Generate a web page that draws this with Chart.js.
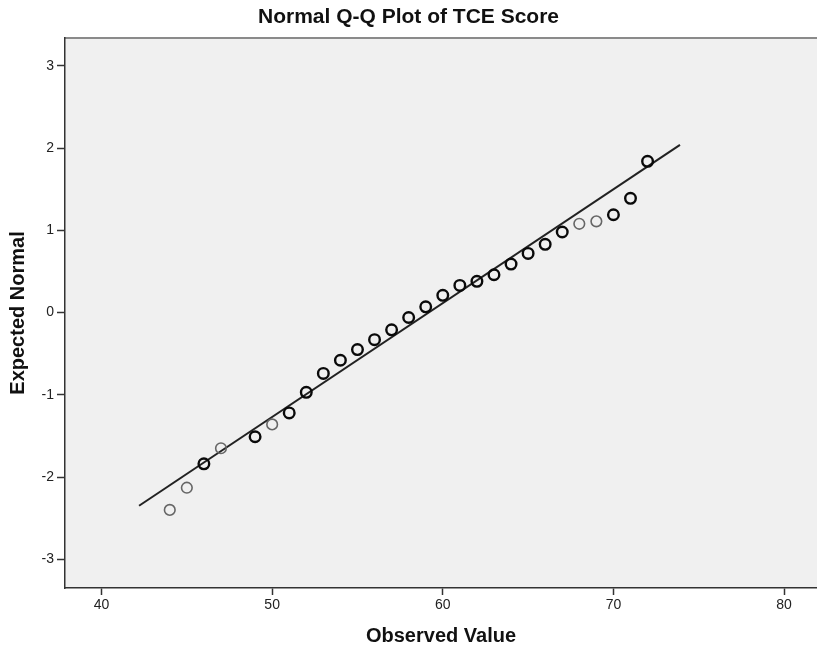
<!DOCTYPE html>
<html>
<head>
<meta charset="utf-8">
<script src="https://cdn.jsdelivr.net/npm/chart.js@4/dist/chart.umd.min.js"></script>
<style>
  body { margin: 0; background: #fff; }
  canvas { display: block; }
</style>
</head>
<body>
<canvas id="qq" width="817" height="645"></canvas>
<script>
// Normal Q-Q Plot of TCE Score

// Datos
const observed = [44, 45, 46, 47, 49, 50, 51, 52, 53, 54, 55, 56, 57, 58,
  59, 60, 61, 62, 63, 64, 65, 66, 67, 68, 69, 70, 71, 72];
const expectedNormal = [-2.40, -2.13, -1.84, -1.65, -1.51, -1.36, -1.22, -0.97,
  -0.74, -0.58, -0.45, -0.33, -0.21, -0.06, 0.07, 0.21, 0.33, 0.38, 0.46,
  0.59, 0.72, 0.83, 0.98, 1.08, 1.11, 1.19, 1.39, 1.84];
// casos por valor (puntos solapados se ven mas oscuros)
const caseCounts = [1, 1, 2, 1, 2, 1, 2, 2, 2, 2, 2, 2, 2, 2,
  2, 2, 2, 2, 2, 2, 2, 2, 2, 1, 1, 2, 2, 2];

// Recta de referencia
const lineX = [42.2, 73.9];
const lineY = [-2.35, 2.04];

// Marcas de los ejes
const xTicks = [40, 50, 60, 70, 80];
const yTicks = [-3, -2, -1, 0, 1, 2, 3];

const pointData = observed.map((x, i) => ({ x: x, y: expectedNormal[i] }));
const lineData = lineX.map((x, i) => ({ x: x, y: lineY[i] }));

// Fondo gris del area y linea superior
const plotBackground = {
  id: 'plotBackground',
  beforeDraw(chart) {
    const { ctx, chartArea: a } = chart;
    ctx.save();
    ctx.fillStyle = '#f0f0f0';
    ctx.fillRect(a.left, a.top, a.right - a.left, a.bottom - a.top);
    ctx.strokeStyle = '#8a8a8a';
    ctx.lineWidth = 2;
    ctx.beginPath();
    ctx.moveTo(a.left, a.top);
    ctx.lineTo(a.right, a.top);
    ctx.stroke();
    ctx.restore();
  }
};

const ctx = document.getElementById('qq').getContext('2d');
const chart = new Chart(ctx, {
  type: 'scatter',
  data: {
    datasets: [
      {
        type: 'line',
        data: lineData,
        borderColor: '#222',
        borderWidth: 2,
        pointRadius: 0,
        fill: false,
        order: 2
      },
      {
        data: pointData,
        pointRadius: 5.3,
        pointBackgroundColor: 'rgba(0,0,0,0)',
        pointBorderColor: caseCounts.map(c => c > 1 ? '#0a0a0a' : '#666'),
        pointBorderWidth: caseCounts.map(c => c > 1 ? 2.4 : 1.6),
        order: 1
      }
    ]
  },
  options: {
    responsive: false,
    animation: false,
    layout: { padding: 0, autoPadding: false },
    plugins: {
      legend: { display: false },
      tooltip: { enabled: false },
      title: {
        display: true,
        text: 'Normal Q-Q Plot of TCE Score',
        color: '#111',
        font: { family: '"Liberation Sans", Arial, sans-serif', size: 21, weight: 'bold', lineHeight: 1.2 },
        padding: { top: 5, bottom: 7.8 }
      }
    },
    scales: {
      x: {
        type: 'linear',
        min: 37.86,
        max: 81.93,
        afterBuildTicks: s => { s.ticks = xTicks.map(v => ({ value: v })); },
        afterFit: s => { s.height = 57; },
        ticks: {
          color: '#222',
          padding: 2,
          font: { family: '"Liberation Sans", Arial, sans-serif', size: 14 }
        },
        grid: { drawOnChartArea: false, drawTicks: true, tickLength: 7, tickColor: '#333', tickWidth: 1.5 },
        border: { color: '#333', width: 1.5 },
        title: {
          display: true,
          text: 'Observed Value',
          color: '#111',
          font: { family: '"Liberation Sans", Arial, sans-serif', size: 20, weight: 'bold', lineHeight: 1 },
          padding: { top: 0, bottom: -1 }
        }
      },
      y: {
        type: 'linear',
        min: -3.35,
        max: 3.34,
        afterBuildTicks: s => { s.ticks = yTicks.map(v => ({ value: v })); },
        afterFit: s => { s.width = 65; },
        ticks: {
          color: '#222',
          padding: 3,
          font: { family: '"Liberation Sans", Arial, sans-serif', size: 14 }
        },
        grid: { drawOnChartArea: false, drawTicks: true, tickLength: 8, tickColor: '#333', tickWidth: 1.5 },
        border: { color: '#333', width: 1.5 },
        title: {
          display: true,
          text: 'Expected Normal',
          color: '#111',
          font: { family: '"Liberation Sans", Arial, sans-serif', size: 20, weight: 'bold', lineHeight: 1 },
          padding: { top: 8, bottom: 0 }
        }
      }
    }
  },
  plugins: [plotBackground]
});
</script>
</body>
</html>
